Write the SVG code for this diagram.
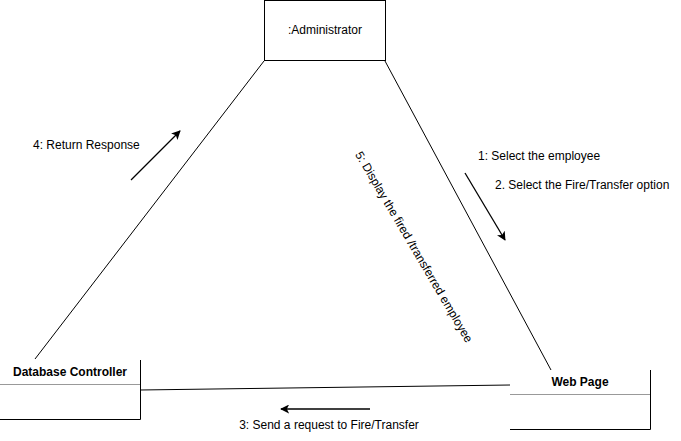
<svg xmlns="http://www.w3.org/2000/svg" width="681" height="441" viewBox="0 0 681 441">
<defs>
<marker id="ah" viewBox="0 0 10 10" refX="9" refY="5" markerWidth="9" markerHeight="9" markerUnits="userSpaceOnUse" orient="auto">
<path d="M0,0 L10,5 L0,10 L2.5,5 Z" fill="#000"/>
</marker>
</defs>
<style>
text{font-family:"Liberation Sans",Arial,sans-serif;font-size:12px;fill:#000}
.b{font-weight:bold}
.ln{stroke:#000;stroke-width:1;fill:none}
.sep{stroke:#999;stroke-width:1;fill:none}
.arr{stroke:#000;stroke-width:1.3;fill:none;marker-end:url(#ah)}
</style>
<rect width="681" height="441" fill="#fff"/>
<g id="connectors">
<line class="ln" x1="264" y1="61" x2="35" y2="359"/>
<line class="ln" x1="385" y1="61" x2="551" y2="370"/>
<line class="ln" x1="140" y1="390" x2="510" y2="385"/>
<line class="arr" x1="131" y1="180" x2="180" y2="131"/>
<line class="arr" x1="465" y1="173" x2="505" y2="240"/>
<line class="arr" x1="370" y1="409" x2="281" y2="409"/>
<text x="33" y="149">4: Return Response</text>
<text x="478" y="160">1: Select the employee</text>
<text x="495" y="189">2. Select the Fire/Transfer option</text>
<text x="329" y="429" text-anchor="middle">3: Send a request to Fire/Transfer</text>
<text transform="translate(414,247) rotate(59.5)" text-anchor="middle" dy="4">5:  Display the fired /transferred employee</text>
</g>
<g id="administrator">
<rect class="ln" x="264.5" y="0.5" width="121" height="60"/>
<text x="325" y="34" text-anchor="middle">:Administrator</text>
</g>
<g id="database-controller">
<path class="ln" d="M140.5,360 V419.5 H0"/>
<line class="sep" x1="0" y1="384.5" x2="140" y2="384.5"/>
<text class="b" x="70" y="376" text-anchor="middle">Database Controller</text>
</g>
<g id="web-page">
<path class="ln" d="M650.5,370 V429.5 H510"/>
<line class="sep" x1="510" y1="394.5" x2="650" y2="394.5"/>
<text class="b" x="580" y="386" text-anchor="middle">Web Page</text>
</g>
</svg>
